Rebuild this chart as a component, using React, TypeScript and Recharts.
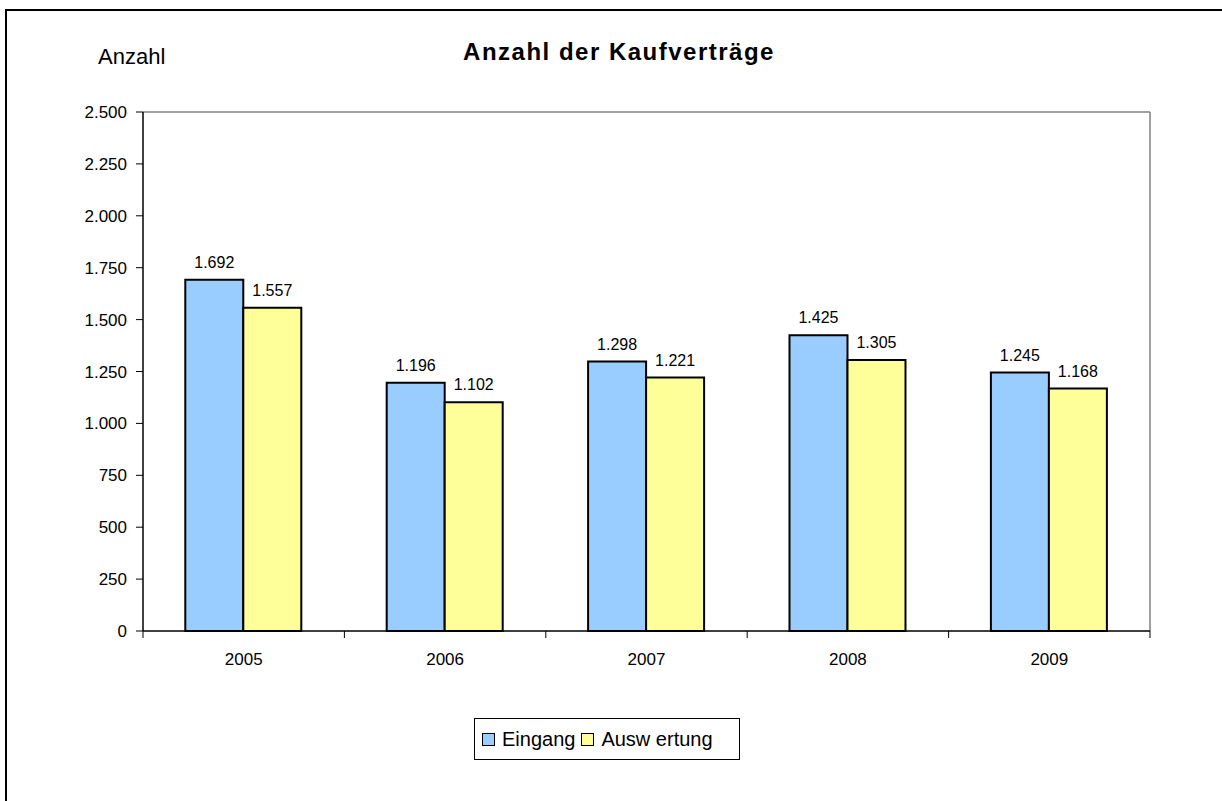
import React from 'react'
import { BarChart, Bar, XAxis, YAxis, Legend, LabelList, CartesianGrid } from 'recharts'

// Daten aus der Grafik
const years = ['2005', '2006', '2007', '2008', '2009']
const eingang = [1692, 1196, 1298, 1425, 1245]
const auswertung = [1557, 1102, 1221, 1305, 1168]
const yTicks = [0, 250, 500, 750, 1000, 1250, 1500, 1750, 2000, 2250, 2500]

const seriesInfo = [
  { key: 'eingang', name: 'Eingang', fill: '#99CCFF' },
  { key: 'auswertung', name: 'Ausw ertung', fill: '#FFFF99' },
]

const data = years.map((year, i) => ({
  year,
  eingang: eingang[i],
  auswertung: auswertung[i],
}))

const FONT = '"Liberation Sans", Arial, Helvetica, sans-serif'

const fmt = (v: number) => String(v).replace(/\B(?=(\d{3})+(?!\d))/g, '.')

// Jahr-Beschriftung + Teilstriche an den Kategoriegrenzen
function YearTick(props: any) {
  const { x, y, payload, index, visibleTicksCount } = props
  const half = payload.offset || 0
  const isLast = index === visibleTicksCount - 1
  return (
    <g>
      <line x1={x - half} x2={x - half} y1={y} y2={y + 7} stroke="#000" />
      {isLast && <line x1={x + half} x2={x + half} y1={y} y2={y + 7} stroke="#000" />}
      <text x={x} y={y + 22} dy="0.71em" textAnchor="middle" fill="#000" fontSize={17} fontFamily={FONT}>
        {payload.value}
      </text>
    </g>
  )
}

function LegendBox() {
  return (
    <div
      style={{
        width: 266,
        height: 42,
        border: '1px solid #000',
        background: '#fff',
        display: 'flex',
        alignItems: 'center',
        paddingLeft: 7,
        boxSizing: 'border-box',
        fontFamily: FONT,
        fontSize: 20,
        color: '#000',
      }}
    >
      {seriesInfo.map((s) => (
        <span key={s.key} style={{ display: 'flex', alignItems: 'center', marginRight: 6 }}>
          <span
            style={{
              width: 11,
              height: 11,
              background: s.fill,
              border: '1px solid #000',
              marginRight: 7,
              display: 'inline-block',
            }}
          />
          {s.name}
        </span>
      ))}
    </div>
  )
}

export default function App() {
  return (
    <div style={{ position: 'absolute', left: 0, top: 0, width: 1222, height: 801, overflow: 'hidden', background: '#fff' }}>
      <div
        style={{
          position: 'absolute',
          left: 5,
          top: 9,
          width: 1400,
          height: 1000,
          border: '2px solid #000',
        }}
      />
      <div
        style={{
          position: 'absolute',
          left: 0,
          width: 1238,
          top: 38,
          textAlign: 'center',
          fontFamily: FONT,
          fontWeight: 'bold',
          fontSize: 24,
          letterSpacing: 1.5,
          color: '#000',
        }}
      >
        Anzahl der Kaufverträge
      </div>
      <div
        style={{
          position: 'absolute',
          left: 98,
          top: 44,
          fontFamily: FONT,
          fontSize: 22,
          color: '#000',
        }}
      >
        Anzahl
      </div>
      <div style={{ position: 'absolute', left: 0, top: 0 }}>
        <BarChart
          width={1222}
          height={801}
          data={data}
          margin={{ top: 112, right: 72, bottom: 130, left: 63 }}
          barGap={0}
          barCategoryGap="21%"
        >
          <CartesianGrid
            stroke="#808080"
            strokeWidth={1.5}
            horizontalCoordinatesGenerator={({ offset }: any) => [offset.top]}
            verticalCoordinatesGenerator={({ offset }: any) => [offset.left + offset.width]}
          />
          <XAxis
            dataKey="year"
            height={40}
            tickLine={false}
            tickSize={0}
            tickMargin={0}
            axisLine={{ stroke: '#000', strokeWidth: 1.5 }}
            tick={<YearTick />}
          />
          <YAxis
            width={80}
            domain={[0, 2500]}
            ticks={yTicks}
            tickFormatter={fmt}
            tickSize={7}
            tickMargin={9}
            tickLine={{ stroke: '#000' }}
            axisLine={{ stroke: '#000', strokeWidth: 1.5 }}
            tick={{ fill: '#000', fontSize: 17, fontFamily: FONT }}
          />
          <Legend
            layout="horizontal"
            verticalAlign="middle"
            wrapperStyle={{ position: 'absolute', left: 474, top: 718, width: 'auto' }}
            content={() => <LegendBox />}
          />
          {seriesInfo.map((s) => (
            <Bar
              key={s.key}
              dataKey={s.key}
              name={s.name}
              fill={s.fill}
              stroke="#000"
              strokeWidth={2}
              isAnimationActive={false}
            >
              <LabelList
                dataKey={s.key}
                position="top"
                offset={12}
                formatter={(v: any) => fmt(Number(v))}
                style={{ fill: '#000', fontSize: 16, fontFamily: FONT }}
              />
            </Bar>
          ))}
        </BarChart>
      </div>
    </div>
  )
}
